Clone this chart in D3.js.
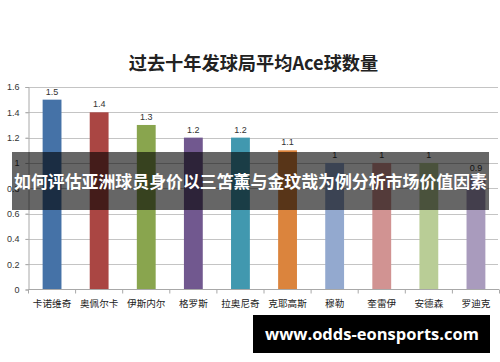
<!DOCTYPE html>
<html><head><meta charset="utf-8">
<script src="https://cdn.jsdelivr.net/npm/d3@7"></script>
<style>body{margin:0;background:#fff}svg{display:block}</style>
</head><body>
<svg id="c" width="500" height="362"></svg>
<script>
const categories = ["卡诺维奇","奥佩尔卡","伊斯内尔","格罗斯","拉奥尼奇","克耶高斯","穆勒","奎雷伊","安德森","罗迪克"];
const values = [1.5,1.4,1.3,1.2,1.2,1.1,1,1,1,0.9];
const colors = ["#4572A7","#AA4643","#89A54E","#71588F","#4198AF","#DB843D","#93A9CF","#D19392","#B9CD96","#A99BBD"];
const yTicks = [0,0.2,0.4,0.6,0.8,1,1.2,1.4,1.6];
const title = "过去十年发球局平均Ace球数量";
const banner = "如何评估亚洲球员身价以三笘薰与金玟哉为例分析市场价值因素";
const watermark = "www.odds-eonsports.com";

const svg = d3.select("#c");
const font = "'Noto Sans CJK SC','Noto Sans',sans-serif";
const x = d3.scaleBand().domain(categories).range([28.5, 499.5]).paddingInner(0.6).paddingOuter(0.3);
const y = d3.scaleLinear().domain([0,1.6]).range([289.5, 87]);

svg.append("text").attr("x",253.5).attr("y",69.5).attr("text-anchor","middle")
  .attr("font-family",font).attr("font-weight","bold").attr("font-size",18.2).attr("fill","#222").text(title);

// gridlines
svg.append("g").selectAll("line").data(yTicks.filter(d=>d>0)).join("line")
  .attr("x1",25.5).attr("x2",498).attr("y1",d=>Math.round(y(d))+0.5).attr("y2",d=>Math.round(y(d))+0.5)
  .attr("stroke","#c4c4c4").attr("stroke-width",1.2);

// y axis
const ya = svg.append("g").attr("transform","translate(28.5,0)")
  .call(d3.axisLeft(y).tickValues(yTicks).tickSize(3).tickPadding(6).tickFormat(d3.format("")));
ya.select(".domain").attr("stroke","#a8a8a8");
ya.selectAll(".tick line").attr("stroke","#a8a8a8");
ya.selectAll("text").attr("font-family","'Liberation Sans',Arial,sans-serif").attr("font-size",9).attr("fill","#333");

// bars
svg.append("g").selectAll("rect").data(values).join("rect")
  .attr("x",(d,i)=>x(categories[i])).attr("width",x.bandwidth())
  .attr("y",d=>y(d)).attr("height",d=>y(0)-y(d))
  .attr("fill",(d,i)=>colors[i]);

svg.append("g").selectAll("text").data(values).join("text")
  .attr("x",(d,i)=>x(categories[i])+x.bandwidth()/2).attr("y",d=>y(d)-5)
  .attr("text-anchor","middle").attr("font-family","'Liberation Sans',Arial,sans-serif")
  .attr("font-size",9).attr("fill","#333").text(d=>d);

// x axis
const bounds = d3.range(categories.length+1).map(i=>28.5+i*x.step());
svg.append("line").attr("x1",28.5).attr("x2",499).attr("y1",289.5).attr("y2",289.5).attr("stroke","#a8a8a8");
svg.append("g").selectAll("line").data(bounds).join("line")
  .attr("x1",d=>d).attr("x2",d=>d).attr("y1",289.5).attr("y2",293.5).attr("stroke","#a8a8a8");
svg.append("g").selectAll("text").data(categories).join("text")
  .attr("x",d=>x(d)+x.bandwidth()/2).attr("y",306.5).attr("text-anchor","middle")
  .attr("font-family",font).attr("font-size",9.6).attr("fill","#222").text(d=>d);

// banner overlay
svg.append("rect").attr("x",12).attr("y",152).attr("width",477).attr("height",58).attr("fill","rgba(0,0,0,0.6)");
svg.append("text").attr("x",250.5).attr("y",187.5).attr("text-anchor","middle")
  .attr("font-family",font).attr("font-weight","bold").attr("font-size",16.9).attr("fill","#fff").text(banner);

// watermark
svg.append("rect").attr("x",253).attr("y",315).attr("width",237).attr("height",38).attr("fill","#000");
svg.append("text").attr("x",372).attr("y",340).attr("text-anchor","middle")
  .attr("font-family","'Open Sans','DejaVu Sans',sans-serif").attr("font-weight","bold").attr("font-size",16.5).attr("fill","#fff").text(watermark);
</script>
</body></html>
